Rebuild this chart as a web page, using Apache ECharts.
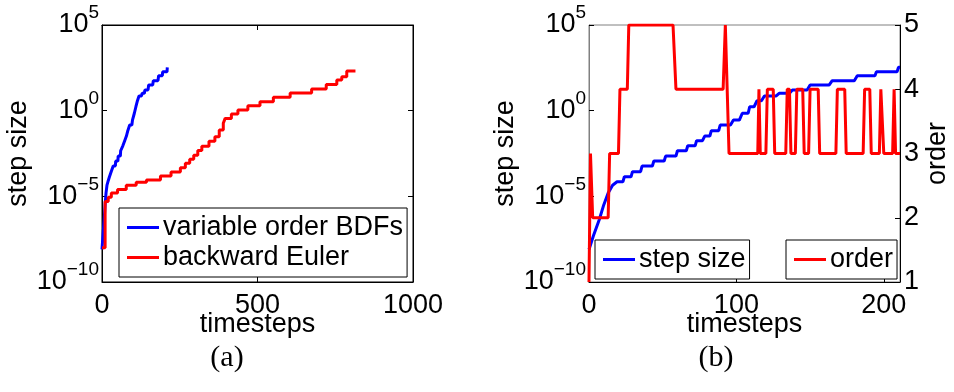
<!DOCTYPE html>
<html>
<head>
<meta charset="utf-8">
<script src="https://cdn.jsdelivr.net/npm/echarts@6/dist/echarts.min.js"></script>
<style>
  html, body { margin: 0; padding: 0; background: #fff; }
  #main { width: 954px; height: 392px; }
</style>
</head>
<body>
<div id="main"></div>
<script>
// step size data is kept as log10(step size)
// variable order BDFs: corner points [timestep, log10 h]
var bdfPts = [
    [0, -8.1], [3, -7.3], [7, -6.35], [10, -5.5], [13, -4.8], [16, -4.35],
    [19, -4.15], [23, -4.15], [24, -3.86], [28.5, -3.86], [29.5, -3.56], [35, -3.56],
    [36, -3.23], [43, -3.23], [44, -2.94], [51, -2.94], [52, -2.65], [59, -2.65],
    [60, -2.34], [66, -2.34], [67, -2.05], [72, -2.05], [73, -1.75], [77, -1.75],
    [78.5, -1.48], [82, -1.48], [83, -1.17], [88, -1.17], [89, -0.84], [96, -0.84],
    [98, -0.55], [102, -0.55], [104, -0.15], [108, -0.15], [109, 0.23], [112, 0.23],
    [114, 0.58], [117, 0.58], [119, 0.86], [127, 0.86], [129, 1.01], [136, 1.01],
    [138, 1.21], [148, 1.21], [150, 1.5], [163, 1.5], [165, 1.75], [180, 1.75],
    [182, 2.04], [194, 2.04], [195, 2.27], [209, 2.27], [210, 2.53], [211, 2.53]
];
// backward Euler: stair levels [start timestep, log10 h]
var bePts = [
    [0, -8.0], [10, -5.3], [20, -5.05], [30, -4.8], [50, -4.6], [78, -4.36],
    [110, -4.18], [143, -4.05], [188, -3.82], [222, -3.58], [252, -3.33], [268, -3.07],
    [282, -2.84], [295, -2.6], [308, -2.32], [321, -2.07], [344, -1.79], [363, -1.52],
    [377, -1.13], [390, -0.74], [396, -0.45], [416, -0.2], [437, 0.04], [469, 0.29],
    [508, 0.52], [551, 0.78], [605, 1.03], [674, 1.26], [721, 1.52], [755, 1.79],
    [771, 1.98], [787, 2.31], [815, 2.31]
];
// BDF order: corner points [timestep, order]
var orderPts = [
    [0, 1], [1, 3], [2.5, 2], [13, 2], [14, 3], [20, 3], [21, 4], [26, 4], [27, 5],
    [57, 5], [59, 4], [91, 4], [92.5, 5], [95, 3], [114.5, 3], [115.3, 4], [116.2, 3],
    [120, 3], [121, 4], [125, 4], [126, 3], [133.5, 3], [134.5, 4], [136, 4], [137, 3],
    [140, 3], [141, 4], [145, 4], [146, 3], [149, 3], [150, 4], [155.5, 4], [156.5, 3],
    [167.5, 3], [168.5, 4], [173.5, 4], [174.5, 3], [186, 3], [187, 4], [190.5, 4], [191.5, 3],
    [197, 3], [198, 4], [199, 4], [200, 3], [206, 3], [207, 4], [208, 3], [211, 3]
];

var FONT = 'Liberation Sans';
var BLUE = '#0000ff', RED = '#ff0000';

function powLabel(v) {
    var s = v < 0 ? '\u2212' + (-v) : String(v);
    return '{b|10}{e|' + s + '}';
}
function plainLabel(v) {
    return String(v);
}
var powRich = {
    b: { fontSize: 27, fontFamily: FONT, color: '#000' },
    e: { fontSize: 19, fontFamily: FONT, color: '#000', padding: [0, 0, 24, 0] }
};

var tickIn = { show: true, inside: true, length: 5, lineStyle: { color: '#000', width: 1 } };
var blackLine = { show: true, onZero: false, lineStyle: { color: '#000', width: 1 } };
var grayLine = { show: true, onZero: false, lineStyle: { color: '#808080', width: 1 } };
var axisName = { fontSize: 27, fontFamily: FONT, color: '#000' };
var tickLabel = { fontSize: 27, fontFamily: FONT, color: '#000', formatter: plainLabel };

function legendBox(pos, names) {
    return Object.assign({
        orient: 'vertical',
        data: names,
        icon: 'rect',
        itemWidth: 32,
        itemHeight: 3,
        itemGap: 3,
        borderColor: '#000',
        borderWidth: 1,
        borderRadius: 0,
        backgroundColor: '#fff',
        padding: [6, 4, 6, 8],
        selectedMode: false,
        textStyle: { fontSize: 27, fontFamily: FONT, color: '#000', padding: [0, 0, 0, -1] }
    }, pos);
}

var chart = echarts.init(document.getElementById('main'), null, { renderer: 'canvas' });
var option = {
    animation: false,
    backgroundColor: '#fff',
    grid: [
        { left: 102, top: 25, width: 311, height: 257, show: true, borderColor: '#000', borderWidth: 1 },
        { left: 589, top: 25, width: 311, height: 257, show: true, borderColor: '#808080', borderWidth: 1 }
    ],
    legend: [
        legendBox({ left: 119, top: 208 }, ['variable order BDFs', 'backward Euler']),
        legendBox({ left: 595, top: 240 }, ['step size']),
        legendBox({ left: 786, top: 240 }, ['order'])
    ],
    xAxis: [
        {
            gridIndex: 0, type: 'value', position: 'bottom', min: 0, max: 1000, interval: 500,
            axisLine: blackLine, axisTick: tickIn, splitLine: { show: false },
            axisLabel: Object.assign({ margin: 10 }, tickLabel),
            name: 'timesteps', nameLocation: 'middle', nameGap: 29, nameMoveOverlap: false,
            nameTextStyle: axisName
        },
        {
            gridIndex: 0, type: 'value', position: 'top', min: 0, max: 1000, interval: 500,
            axisLine: blackLine, axisTick: tickIn, axisLabel: { show: false }, splitLine: { show: false }
        },
        {
            gridIndex: 1, type: 'value', position: 'bottom', min: 0, max: 211, interval: 100,
            axisLine: blackLine, axisTick: tickIn, splitLine: { show: false },
            axisLabel: Object.assign({ margin: 10, showMaxLabel: false }, tickLabel),
            name: 'timesteps', nameLocation: 'middle', nameGap: 29, nameMoveOverlap: false,
            nameTextStyle: axisName
        }
    ],
    yAxis: [
        {
            gridIndex: 0, type: 'value', position: 'left', min: -10, max: 5, interval: 5,
            axisLine: blackLine, axisTick: tickIn, splitLine: { show: false },
            axisLabel: { margin: 3, formatter: powLabel, rich: powRich },
            name: 'step size', nameLocation: 'middle', nameGap: 70, nameRotate: 90,
            nameMoveOverlap: false, nameTextStyle: axisName
        },
        {
            gridIndex: 0, type: 'value', position: 'right', min: -10, max: 5, interval: 5,
            axisLine: blackLine, axisTick: tickIn, axisLabel: { show: false }, splitLine: { show: false }
        },
        {
            gridIndex: 1, type: 'value', position: 'left', min: -10, max: 5, interval: 5,
            axisLine: grayLine, axisTick: tickIn, splitLine: { show: false },
            axisLabel: { margin: 3, formatter: powLabel, rich: powRich },
            name: 'step size', nameLocation: 'middle', nameGap: 70, nameRotate: 90,
            nameMoveOverlap: false, nameTextStyle: axisName
        },
        {
            gridIndex: 1, type: 'value', position: 'right', min: 1, max: 5, interval: 1,
            axisLine: blackLine, axisTick: tickIn, splitLine: { show: false },
            axisLabel: Object.assign({ margin: 4 }, tickLabel),
            name: 'order', nameLocation: 'middle', nameGap: 24, nameRotate: 90,
            nameMoveOverlap: false, nameTextStyle: axisName
        }
    ],
    series: [
        {
            name: 'variable order BDFs', type: 'line', xAxisIndex: 0, yAxisIndex: 0,
            data: bdfPts, showSymbol: false, symbol: 'none', color: BLUE,
            lineStyle: { color: BLUE, width: 3 }
        },
        {
            name: 'backward Euler', type: 'line', xAxisIndex: 0, yAxisIndex: 0, step: 'end',
            data: bePts, showSymbol: false, symbol: 'none', color: RED,
            lineStyle: { color: RED, width: 3 }
        },
        {
            name: 'step size', type: 'line', xAxisIndex: 2, yAxisIndex: 2,
            data: bdfPts, showSymbol: false, symbol: 'none', color: BLUE,
            lineStyle: { color: BLUE, width: 3 }
        },
        {
            name: 'order', type: 'line', xAxisIndex: 2, yAxisIndex: 3,
            data: orderPts, showSymbol: false, symbol: 'none', color: RED,
            lineStyle: { color: RED, width: 3 }
        }
    ],
    graphic: [
        {
            type: 'text', x: 227, y: 358,
            style: { text: '(a)', fontSize: 30, fontFamily: 'Liberation Serif', fill: '#000', align: 'center', verticalAlign: 'middle' }
        },
        {
            type: 'text', x: 716, y: 358,
            style: { text: '(b)', fontSize: 30, fontFamily: 'Liberation Serif', fill: '#000', align: 'center', verticalAlign: 'middle' }
        }
    ]
};
chart.setOption(option);

window.addEventListener('resize', function () {
    chart.resize();
});
</script>
</body>
</html>
